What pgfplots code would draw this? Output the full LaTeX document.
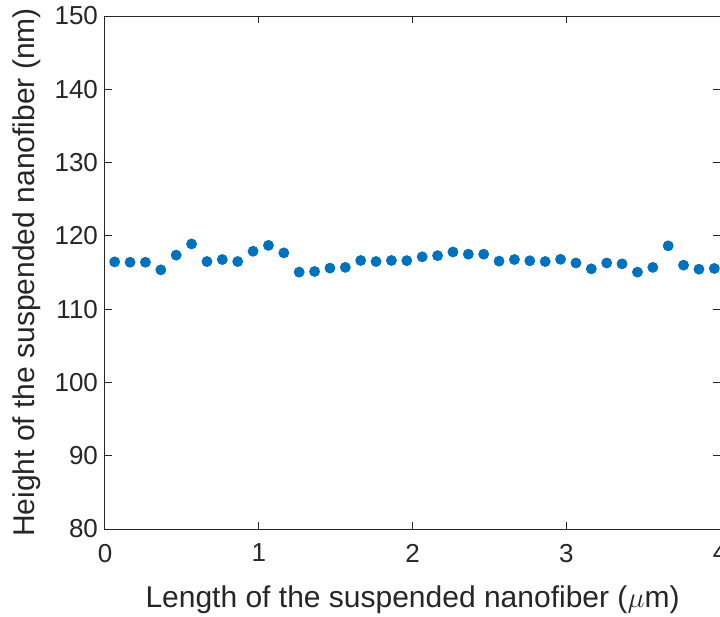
\documentclass[border=0pt]{standalone}
\usepackage{pgfplots}
\pgfplotsset{compat=1.18}
\usepackage{fontspec}
\setmainfont{Liberation Sans}
\definecolor{mblue}{HTML}{0072BD}
\definecolor{axgray}{HTML}{262626}
\begin{document}
\begin{tikzpicture}
\begin{axis}[
  name=ax,
  scale only axis,
  width=307.5pt, height=256.5pt,
  xmin=0, xmax=4, ymin=80, ymax=150,
  xtick={0,1,2,3,4}, ytick={80,90,...,150},
  tick align=inside, tick pos=both,
  major tick length=3.5pt,
  axis line style={axgray, line width=0.5pt},
  every tick/.style={axgray, line width=0.5pt},
  tick label style={font=\fontsize{13}{15}\selectfont, text=axgray},
  xticklabel style={yshift=-4pt},
  label style={font=\fontsize{15}{18}\selectfont, text=axgray},
  /pgf/number format/assume math mode=true,
  xlabel={Length of the suspended nanofiber ($\mu$m)},
  ylabel={Height of the suspended nanofiber (nm)},
  xlabel style={yshift=-5pt},
  ylabel style={yshift=0pt},
]
\addplot[only marks, mark=*, mark size=2.5pt, color=mblue] coordinates {
  (0.063,116.45) (0.163,116.40) (0.263,116.40) (0.363,115.36) (0.463,117.37)
  (0.563,118.90) (0.663,116.50) (0.763,116.77) (0.863,116.50) (0.963,117.90)
  (1.063,118.70) (1.163,117.68) (1.263,115.05) (1.363,115.14) (1.463,115.60)
  (1.563,115.70) (1.663,116.64) (1.763,116.50) (1.863,116.64) (1.963,116.62)
  (2.063,117.14) (2.163,117.30) (2.263,117.80) (2.363,117.50) (2.463,117.50)
  (2.563,116.55) (2.663,116.77) (2.763,116.60) (2.863,116.50) (2.963,116.80)
  (3.063,116.30) (3.163,115.50) (3.263,116.30) (3.363,116.18) (3.463,115.05)
  (3.563,115.70) (3.663,118.64) (3.763,116.00) (3.863,115.45) (3.963,115.55)
};
\end{axis}
\pgfresetboundingbox
\path (ax.south west) ++(-52.5pt,-43.5pt) coordinate (bl);
\path (ax.north east) ++(0pt,8pt) coordinate (tr);
\useasboundingbox (bl) rectangle (tr);
\end{tikzpicture}
\end{document}
